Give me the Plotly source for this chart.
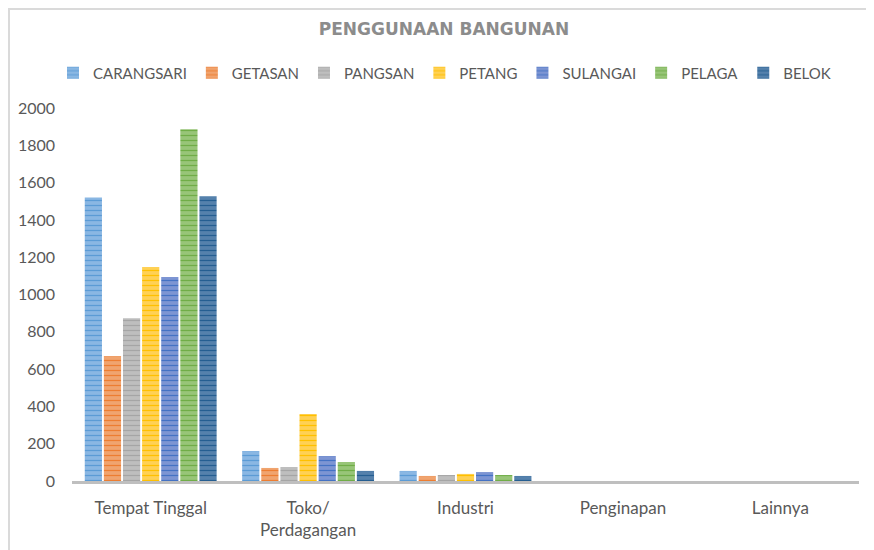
import plotly.graph_objects as go

categories = ["Tempat Tinggal", "Toko/<br>Perdagangan", "Industri", "Penginapan", "Lainnya"]
series_names = ["CARANGSARI", "GETASAN", "PANGSAN", "PETANG", "SULANGAI", "PELAGA", "BELOK"]
carangsari = [1520, 161, 54, 0, 0]
getasan = [670, 70, 27, 0, 0]
pangsan = [872, 75, 32, 0, 0]
petang = [1147, 359, 38, 0, 0]
sulangai = [1094, 134, 48, 0, 0]
pelaga = [1886, 102, 32, 0, 0]
belok = [1527, 54, 27, 0, 0]
values = [carangsari, getasan, pangsan, petang, sulangai, pelaga, belok]

base_colors = ["#5B9BD5", "#ED7D31", "#A5A5A5", "#FFC000", "#4472C4", "#70AD47", "#255E91"]
light_colors = ["#8AB7E3", "#F0A46F", "#BEBEBE", "#FFD155", "#7D95D3", "#98C578", "#5581AC"]

W, H = 866, 542
L, R, T, B = 64, 15, 100, 69
pw, ph = W - L - R, H - T - B

fig = go.Figure()
for name, vals, bc, lc in zip(series_names, values, base_colors, light_colors):
    fig.add_trace(go.Bar(
        x=categories, y=vals, name=name,
        marker=dict(color=lc, line=dict(width=0),
                    pattern=dict(shape="-", fgcolor=bc, bgcolor=lc, size=5, solidity=0.25, fillmode="replace")),
    ))

font_family = "Lato, 'Open Sans', sans-serif"
fig.update_layout(
    width=W, height=H,
    paper_bgcolor="white", plot_bgcolor="white",
    margin=dict(l=L, r=R, t=T, b=B, autoexpand=False),
    barmode="group", bargap=0.15, bargroupgap=0.1,
    font=dict(family=font_family, size=15, color="#595959"),
    title=dict(text="<b>PENGGUNAAN BANGUNAN</b>", x=(436 - 0) / W, xanchor="center",
               y=1 - 21 / H, yanchor="middle",
               font=dict(family="'DejaVu Sans', sans-serif", size=17, color="#8C8C8C")),
    legend=dict(orientation="h", x=(436.5 - L) / pw, xanchor="center", y=1 + 35 / ph, yanchor="middle",
                font=dict(size=15, color="#595959"), itemwidth=30, traceorder="normal"),
    showlegend=True,
    xaxis=dict(showline=True, linecolor="#BFBFBF", linewidth=2.5, ticks="", showgrid=False,
               tickfont=dict(size=17, color="#595959"), ticklabelstandoff=10),
    yaxis=dict(range=[0, 2000], dtick=200, showgrid=False, zeroline=False, showline=False,
               tickfont=dict(size=16, color="#595959"), ticklabelstandoff=16),
    shapes=[
        dict(type="line", xref="paper", yref="paper",
             x0=-L / pw + 1 / pw, x1=-L / pw + 1 / pw, y0=-B / ph, y1=1 + T / ph,
             line=dict(color="#DADADA", width=2)),
        dict(type="line", xref="paper", yref="paper",
             x0=-L / pw, x1=1 + R / pw, y0=1 + T / ph - 1 / ph, y1=1 + T / ph - 1 / ph,
             line=dict(color="#DADADA", width=2)),
    ],
)

fig.write_html("out.html")
